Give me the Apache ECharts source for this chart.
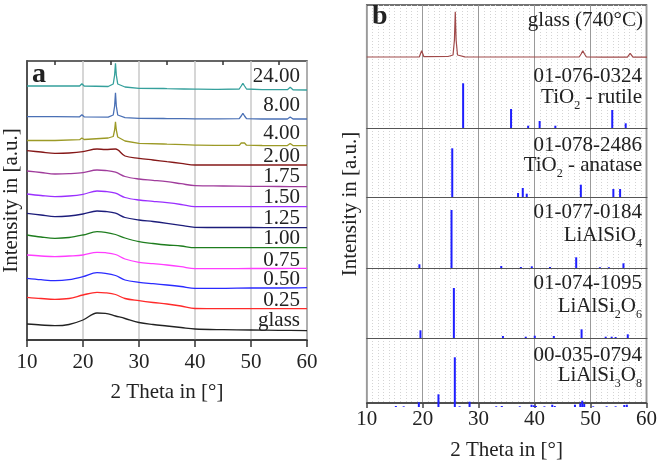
<!DOCTYPE html>
<html>
<head>
<meta charset="utf-8">
<script src="https://cdn.jsdelivr.net/npm/echarts@6/dist/echarts.min.js"></script>
<style>
html, body { margin: 0; padding: 0; background: #fff; }
#chart { width: 660px; height: 466px; }
</style>
</head>
<body>
<div id="chart"></div>
<script>
// ---- panel a : heat treatment series (offset in a.u.) ----
const thetaA = [10, 12.5, 15, 17.5, 20, 22.5, 24, 25.8, 27.5, 30, 32.5, 35, 37.5, 40, 45, 50, 55, 60]
const yGlass = [16, 15, 14.3, 15.5, 20, 27, 26.7, 24, 21.5, 17.5, 15.5, 14, 12.5, 11, 10.3, 10, 9.7, 9.3]
const y025 = [42.7, 41.5, 40.7, 41.5, 45, 47.7, 47.2, 45.5, 41.5, 39.3, 37.5, 36, 34, 31.5, 31.3, 31.3, 31.3, 31.3]
const y050 = [61.7, 60.3, 59.3, 60.3, 63.3, 67.3, 66.7, 64.5, 60, 57.7, 56.3, 55, 53.5, 51.7, 51.7, 52, 52, 52.3]
const y075 = [85, 84, 83.3, 84, 85, 87.7, 87.3, 85.5, 81, 77.7, 76.3, 75, 73.3, 71.3, 71.3, 71.5, 71.5, 71.7]
const y100 = [105, 103, 101.7, 102.5, 105, 108.3, 107.7, 105.5, 102, 98.3, 96.5, 95, 94, 92.3, 92.3, 92.3, 92.3, 92.3]
const y125 = [126.7, 125, 123.3, 124, 126, 129, 128.5, 126.8, 122.5, 120, 118.5, 116.7, 114.7, 112.7, 112.5, 112.5, 112.3, 112.3]
const y150 = [146, 144.5, 143.3, 144, 145.7, 149, 148.5, 146.8, 142.5, 140, 138.7, 137.3, 135.5, 133.3, 133.3, 133.3, 133.3, 133.3]
const y175 = [169, 167.5, 166, 166.3, 167.3, 170, 169.5, 167.8, 163.5, 161, 159.7, 158.3, 156.3, 154.3, 154, 153.7, 153.5, 153.3]
const y200 = [189.3, 188, 186.7, 187, 188.3, 191, 190.5, 191, 184, 181.7, 180, 178.3, 176.7, 175, 175, 175, 175, 175]

// crystallised samples (sharp peaks)
const thetaC = [10, 15, 19.4, 19.8, 20.2, 24.5, 25.4, 25.65, 25.8, 25.95, 26.2, 27.5, 30, 34.4, 34.7, 35.0, 38, 40, 40.3, 40.6,
  43.5, 43.8, 44.1, 47.9, 48.25, 48.55, 48.85, 49.2, 52, 56.5, 57, 57.5, 60]
const y400 = [199.5, 199.5, 200.3, 202, 200.5, 202, 203.5, 210, 218.3, 210, 203, 199, 196.7, 196, 197.2, 195.8, 195.3, 194.8, 196, 194.8,
  194.6, 196, 194.6, 194.7, 197, 199, 197, 194.8, 194.5, 194.4, 196.5, 194.4, 194.3]
const y800 = [223.3, 223.3, 223.2, 225.3, 223.2, 222.8, 225, 234, 247.3, 234, 225, 222.3, 221.7, 221.5, 222.7, 221.4, 221.3, 221.2, 222.3, 221.2,
  221.1, 222.3, 221.1, 221.3, 224, 226.7, 224, 221.3, 221, 221, 223, 221, 221]
const y2400 = [254, 254, 254, 256.3, 254, 253.5, 256, 265, 276.7, 265, 256, 253, 251.7, 251.5, 253, 251.3, 251, 250.8, 252.3, 250.8,
  250.7, 252.2, 250.6, 251, 254, 256.7, 254, 251, 250.3, 250.3, 252.7, 250.2, 250]

const seriesNames = ['glass', '0.25', '0.50', '0.75', '1.00', '1.25', '1.50', '1.75', '2.00', '4.00', '8.00', '24.00']
const seriesColors = ['#222222', '#ff2a2a', '#2a2aff', '#ff3dff', '#1e7d1e', '#1c1c7a', '#9b30ff', '#a03c9c', '#851818', '#9c9a26', '#4a70b5', '#35a09c']
const labelY = [320, 300, 279.3, 260, 238.3, 218.3, 197.7, 176.7, 156, 133.3, 105.7, 76.7]

// ---- panel b : sample at 740 °C and reference patterns ----
const yGlass740 = [3, 3, 3.2, 9.3, 3.3, 3.5, 5, 20, 48.3, 20, 5, 3.2, 3, 3, 4.5, 3, 3, 3, 4.3, 3,
  3, 4.3, 3, 3, 6, 9.3, 6, 3, 2.8, 2.8, 6.7, 2.8, 2.8]

const rutilePos = [27.2, 35.75, 38.8, 40.85, 43.65, 53.8, 56.2]
const rutileInt = [44.7, 19, 2.3, 7, 2.3, 18, 4.7]
const anatasePos = [25.26, 37.0, 37.84, 38.55, 48.2, 54.0, 55.2]
const anataseInt = [48.7, 4, 9, 3.3, 12.3, 8, 8]
const liAlSiO4Pos = [19.4, 25.13, 34.0, 37.5, 39.45, 42.7, 47.37, 51.6, 53.2, 55.8]
const liAlSiO4Int = [3.7, 58, 2, 1, 1.7, 1, 10.7, 0.8, 0.8, 4.7]
const liAlSi2O6Pos = [19.59, 25.55, 34.3, 38.37, 39.98, 43.38, 48.33, 52.63, 53.7, 54.4, 56.57]
const liAlSi2O6Int = [7.7, 50, 2, 1.3, 2.3, 2, 8.7, 1.3, 1.3, 1, 3.7]
const liAlSi3O8Pos = [15.2, 16.6, 19.3, 22.8, 25.72, 26.57, 28.35, 33.1, 34.1, 37.3, 39.4, 39.8, 40.2, 41.7, 43.1, 43.55,
  47.15, 48.1, 48.45, 48.8, 50.4, 52.8, 54.4, 55.95, 56.4]
const liAlSi3O8Int = [1, 0.7, 4.7, 12.7, 49.7, 0.7, 5.3, 0.7, 1, 0.7, 2.3, 1.7, 1, 0.7, 2.3, 1,
  2.3, 3.7, 6.3, 3, 0.7, 0.7, 0.7, 2, 2.3]

const FONT = '"Liberation Serif", "DejaVu Serif", serif'
const zip = (xs, ys) => xs.map((x, i) => [x, ys[i]])

// panel b sub-panels: [top, bottom]
const subPanels = [[5, 60], [60, 128], [128, 197], [197, 268], [268, 338], [338, 407]]
const B_LEFT = 366.7
const B_W = 280.3

const grids = [
  { left: 26.5, top: 61, width: 280.5, height: 279, show: true, borderColor: '#333', borderWidth: 1.5 },
  { left: B_LEFT, top: 5, width: B_W, height: 402, show: true, borderColor: '#444', borderWidth: 1.5 }
]
subPanels.forEach(([t, b]) => grids.push({ left: B_LEFT, top: t, width: B_W, height: b - t }))

const labelStyle = { color: '#222', fontSize: 21, fontFamily: FONT }

const xAxes = [
  {
    gridIndex: 0, type: 'value', min: 10, max: 60, interval: 10,
    name: '2 Theta in [°]', nameLocation: 'middle', nameGap: 42,
    nameTextStyle: labelStyle,
    axisLine: { lineStyle: { color: '#333', width: 1.5 } },
    axisTick: { length: 7, lineStyle: { color: '#333', width: 1.5 } },
    axisLabel: { ...labelStyle, margin: 12 },
    splitLine: { show: true, lineStyle: { color: '#c8c8c8', width: 1.5 } }
  },
  {
    gridIndex: 0, type: 'value', min: 10, max: 60,
    axisLine: { show: false }, axisLabel: { show: false }, splitLine: { show: false },
    axisTick: { show: true, inside: true, length: 4, customValues: [15, 25, 35, 45, 55], lineStyle: { color: '#333', width: 1.5 } }
  },
  {
    gridIndex: 1, type: 'value', min: 10, max: 60, interval: 10,
    name: '2 Theta in [°]', nameLocation: 'middle', nameGap: 37,
    nameTextStyle: labelStyle,
    axisLine: { lineStyle: { color: '#444', width: 1.5 } },
    axisTick: { length: 5, lineStyle: { color: '#444', width: 1.5 } },
    axisLabel: { ...labelStyle, margin: 6 },
    splitLine: { show: true, lineStyle: { color: '#9a9a9a', width: 1 } },
    minorTick: { show: false, splitNumber: 10 },
    minorSplitLine: { show: true, lineStyle: { color: '#d4d4d4', width: 1, type: [1, 2] } }
  }
]
subPanels.forEach((p, i) => {
  const sep = i >= 1 && i <= 4
  xAxes.push({
    gridIndex: i + 2, type: 'value', min: 10, max: 60,
    axisLine: { show: sep, lineStyle: { color: '#555', width: 1 } },
    axisTick: { show: false }, axisLabel: { show: false }, splitLine: { show: false }
  })
})

const yAxes = [
  {
    gridIndex: 0, type: 'value', min: 0, max: 279,
    name: 'Intensity in [a.u.]', nameLocation: 'middle', nameGap: 5, nameTextStyle: labelStyle,
    axisLine: { show: true, lineStyle: { color: '#333', width: 1.5 } },
    axisTick: { show: false }, axisLabel: { show: false }, splitLine: { show: false }
  },
  {
    gridIndex: 1, type: 'value', min: 0, max: 1,
    name: 'Intensity in [a.u.]', nameLocation: 'middle', nameGap: 6, nameTextStyle: labelStyle,
    axisLine: { show: false }, axisTick: { show: false }, axisLabel: { show: false }, splitLine: { show: false }
  }
]
subPanels.forEach(([t, b], i) => {
  yAxes.push({
    gridIndex: i + 2, type: 'value', min: 0, max: b - t, show: false
  })
})

const seriesA = [y025, y050, y075, y100, y125, y150, y175, y200]
const series = []
series.push({
  type: 'line', name: 'glass', xAxisIndex: 0, yAxisIndex: 0, data: zip(thetaA, yGlass),
  smooth: 0.35, showSymbol: false, lineStyle: { color: seriesColors[0], width: 1.3 }
})
seriesA.forEach((ys, i) => {
  series.push({
    type: 'line', name: seriesNames[i + 1], xAxisIndex: 0, yAxisIndex: 0, data: zip(thetaA, ys),
    smooth: 0.35, showSymbol: false, lineStyle: { color: seriesColors[i + 1], width: 1.3 }
  })
})
;[y400, y800, y2400].forEach((ys, i) => {
  series.push({
    type: 'line', name: seriesNames[i + 9], xAxisIndex: 0, yAxisIndex: 0, data: zip(thetaC, ys),
    showSymbol: false, lineStyle: { color: seriesColors[i + 9], width: 1.3 }
  })
})

series.push({
  type: 'line', name: 'glass (740°C)', xAxisIndex: 3, yAxisIndex: 2, data: zip(thetaC, yGlass740),
  showSymbol: false, lineStyle: { color: '#a04a4a', width: 1.2 }
})
const sticks = [
  [rutilePos, rutileInt], [anatasePos, anataseInt], [liAlSiO4Pos, liAlSiO4Int],
  [liAlSi2O6Pos, liAlSi2O6Int], [liAlSi3O8Pos, liAlSi3O8Int]
]
sticks.forEach(([pos, ints], i) => {
  series.push({
    type: 'bar', xAxisIndex: i + 4, yAxisIndex: i + 3, data: zip(pos, ints),
    barWidth: 2, itemStyle: { color: '#1f1fff' }, silent: true
  })
})

// text annotations
const txt = (x, y, text, extra) => ({
  type: 'text', x: x, y: y, z: 100,
  style: Object.assign({
    text: text, fill: '#222', font: '21px ' + FONT,
    align: 'right', verticalAlign: 'middle', textAlign: 'right', textVerticalAlign: 'middle'
  }, extra || {})
})
const subRich = {
  sub: { fontSize: 12, fontFamily: FONT, fill: '#222', color: '#222', verticalAlign: 'bottom', lineHeight: 12, padding: [0, 0, -4, 0] }
}
const graphics = seriesNames.map((n, i) => txt(300, labelY[i], n))
graphics.push(txt(32, 75, 'a', { font: 'bold 28px ' + FONT, align: 'left', textAlign: 'left' }))
graphics.push(txt(372, 17, 'b', { font: 'bold 28px ' + FONT, align: 'left', textAlign: 'left' }))
graphics.push(txt(643, 20.5, 'glass (740°C)'))
graphics.push(txt(642, 76.7, '01-076-0324'))
graphics.push(txt(642, 97.3, 'TiO{sub|2} - rutile', { rich: subRich }))
graphics.push(txt(642, 145.7, '01-078-2486'))
graphics.push(txt(642, 165.7, 'TiO{sub|2} - anatase', { rich: subRich }))
graphics.push(txt(642, 212.3, '01-077-0184'))
graphics.push(txt(642, 235, 'LiAlSiO{sub|4}', { rich: subRich }))
graphics.push(txt(642, 283.3, '01-074-1095'))
graphics.push(txt(642, 306.7, 'LiAlSi{sub|2}O{sub|6}', { rich: subRich }))
graphics.push(txt(642, 355.7, '00-035-0794'))
graphics.push(txt(642, 375, 'LiAlSi{sub|3}O{sub|8}', { rich: subRich }))

const chart = echarts.init(document.getElementById('chart'), null, { renderer: 'canvas' })
chart.setOption({
  backgroundColor: '#fff',
  animation: false,
  textStyle: { fontFamily: FONT },
  grid: grids,
  xAxis: xAxes,
  yAxis: yAxes,
  series: series,
  graphic: graphics
})
</script>
</body>
</html>
